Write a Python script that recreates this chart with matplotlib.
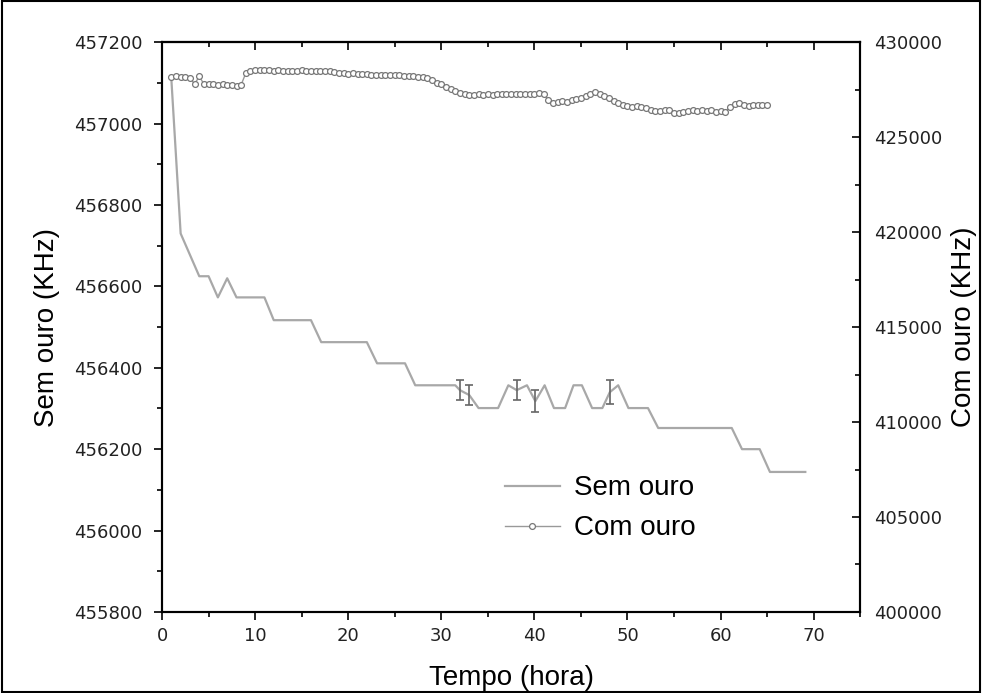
import numpy as np
import matplotlib
matplotlib.use("Agg")
import matplotlib.pyplot as plt
from matplotlib.ticker import MultipleLocator

plt.rcParams['font.family'] = ['Liberation Sans', 'DejaVu Sans']

# Sem ouro (left axis) - vertices of the trace
sem_x = [1.0, 2.0, 4.0, 5.0, 6.0, 7.0, 8.0, 11.0, 12.0, 16.0, 17.1, 22.0, 23.1, 26.1,
         27.2, 31.5, 32.0, 33.0, 34.0, 36.1, 37.2, 38.1, 39.2, 40.1, 41.1, 42.1, 43.3,
         44.2, 45.1, 46.2, 47.3, 48.1, 49.0, 50.1, 52.2, 53.3, 61.2, 62.3, 64.2, 65.3, 69.1]
sem_y = [457110, 456730, 456625, 456625, 456573, 456620, 456573, 456573, 456517, 456517,
         456463, 456463, 456411, 456411, 456357, 456357, 456345, 456333, 456301, 456301,
         456357, 456345, 456357, 456318, 456357, 456301, 456301, 456357, 456357, 456301,
         456301, 456340, 456357, 456301, 456301, 456252, 456252, 456200, 456200, 456144,
         456144]

# error bars on a few points of Sem ouro
err_x = [32.0, 33.0, 38.1, 40.1, 48.1]
err_y = [456345, 456333, 456345, 456318, 456340]
err_e = [25, 25, 25, 27, 30]

# Com ouro (right axis), one reading every half hour from 1 h to 65 h
com_x = np.arange(1.0, 65.01, 0.5)
com_y = [428150, 428200, 428150, 428180, 428120, 427800, 428200, 427800, 427780, 427800,
         427760, 427780, 427760, 427750, 427700, 427760, 428380, 428480, 428520, 428540,
         428520, 428530, 428500, 428520, 428500, 428510, 428490, 428500, 428520, 428500,
         428510, 428500, 428480, 428500, 428470, 428420, 428380, 428400, 428350, 428370,
         428320, 428340, 428320, 428300, 428290, 428300, 428280, 428290, 428260, 428270,
         428250, 428230, 428200, 428180, 428150, 428120, 428000, 427880, 427800, 427650,
         427550, 427450, 427350, 427250, 427200, 427220, 427250, 427230, 427260, 427240,
         427260, 427280, 427250, 427300, 427280, 427300, 427260, 427280, 427300, 427330,
         427300, 426950, 426800, 426850, 426900, 426880, 426950, 427000, 427050, 427150,
         427250, 427370, 427300, 427150, 427050, 426900, 426780, 426700, 426650, 426600,
         426620, 426600, 426550, 426420, 426380, 426400, 426450, 426420, 426300, 426280,
         426350, 426400, 426420, 426400, 426430, 426380, 426420, 426350, 426380, 426350,
         426600, 426750, 426800, 426700, 426650, 426720, 426700, 426720, 426680]

fig = plt.figure(figsize=(9.82, 6.93), dpi=100)
ax = fig.add_axes([0.165, 0.117, 0.711, 0.822])
ax2 = ax.twinx()

l1, = ax.plot(sem_x, sem_y, color='#a8a8a8', lw=1.6, label='Sem ouro')
ax.errorbar(err_x, err_y, yerr=err_e, fmt='none', ecolor='#666666', elinewidth=1.2,
            capsize=3, capthick=1.2)

l2, = ax2.plot(com_x, com_y, color='#999999', lw=1.0, marker='o', ms=4.2,
               mfc='white', mec='#777777', mew=0.9, label='Com ouro')

ax.set_xlim(0, 75)
ax.set_ylim(455800, 457200)
ax2.set_ylim(400000, 430000)

ax.xaxis.set_major_locator(MultipleLocator(10))
ax.xaxis.set_minor_locator(MultipleLocator(5))
ax.yaxis.set_major_locator(MultipleLocator(200))
ax.yaxis.set_minor_locator(MultipleLocator(100))
ax2.yaxis.set_major_locator(MultipleLocator(5000))
ax2.yaxis.set_minor_locator(MultipleLocator(2500))

ax.tick_params(axis='both', which='major', direction='out', length=6, width=1.2,
               labelsize=13, pad=8)
ax.tick_params(axis='both', which='minor', direction='out', length=3.5, width=1.2)
ax.tick_params(axis='x', pad=5)
ax2.tick_params(axis='y', which='major', direction='in', length=6, width=1.2,
                labelsize=13, pad=10)
ax2.tick_params(axis='y', which='minor', direction='in', length=3.5, width=1.2)

top = ax.secondary_xaxis('top')
top.xaxis.set_major_locator(MultipleLocator(10))
top.xaxis.set_minor_locator(MultipleLocator(5))
top.tick_params(which='major', direction='in', length=6, width=1.2, labeltop=False)
top.tick_params(which='minor', direction='in', length=3.5, width=1.2)

for a in (ax, ax2):
    for s in a.spines.values():
        s.set_linewidth(1.5)
top.spines['top'].set_linewidth(1.5)

for lab in ax.get_xticklabels() + ax.get_yticklabels() + ax2.get_yticklabels():
    lab.set_family(['DejaVu Sans'])
    lab.set_color('#222222')

ax.set_xlabel('Tempo (hora)', fontsize=20, labelpad=14)
ax.set_ylabel('Sem ouro (KHz)', fontsize=20, labelpad=10)
ax2.set_ylabel('Com ouro (KHz)', fontsize=20, labelpad=6)

ax2.legend([l1, l2], ['Sem ouro', 'Com ouro'], loc='lower left',
           bbox_to_anchor=(0.455, 0.08), frameon=False, fontsize=20,
           handlelength=2.0, handletextpad=0.5, labelspacing=0.5)

# thin frame around the whole picture
fig.patches.append(plt.Rectangle((0.002, 0.002), 0.996, 0.996, transform=fig.transFigure,
                                 fill=False, edgecolor='black', lw=1.5))

fig.savefig('out.png', dpi=100)
